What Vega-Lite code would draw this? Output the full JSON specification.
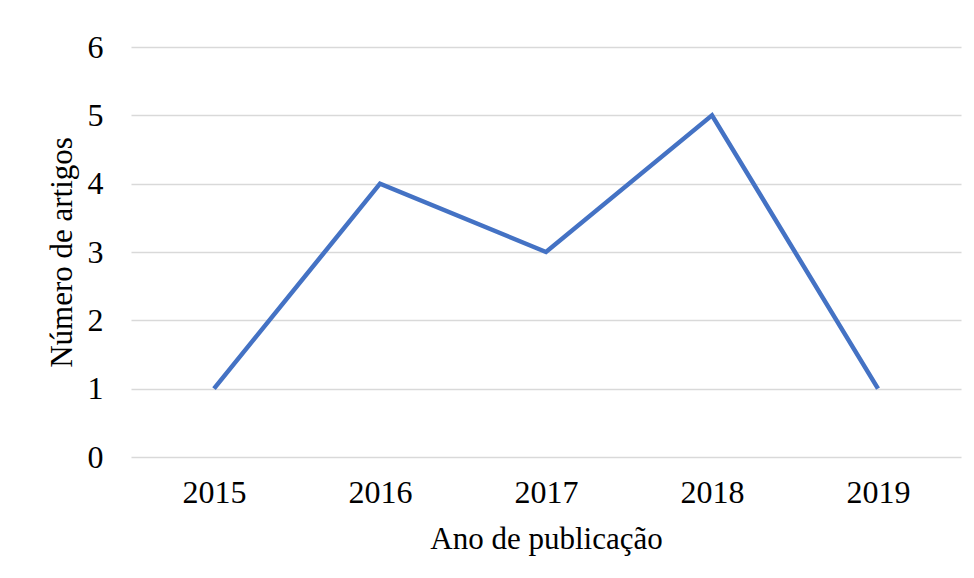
{
  "$schema": "https://vega.github.io/schema/vega-lite/v6.json",
  "width": 830,
  "height": 410,
  "autosize": "none",
  "padding": {"left": 131, "top": 47, "right": 13, "bottom": 121},
  "background": "white",
  "data": {"values": [
    {"ano": "2015", "n": 1},
    {"ano": "2016", "n": 4},
    {"ano": "2017", "n": 3},
    {"ano": "2018", "n": 5},
    {"ano": "2019", "n": 1}
  ]},
  "config": {
    "view": {"stroke": null},
    "font": "Liberation Serif"
  },
  "mark": {"type": "line", "color": "#4472C4", "strokeWidth": 4.5},
  "encoding": {
    "x": {
      "field": "ano", "type": "ordinal",
      "scale": {"type": "point", "padding": 0.5},
      "axis": {
        "title": "Ano de publicação",
        "titleFont": "Liberation Serif", "titleFontSize": 31, "titleFontWeight": "normal", "titleColor": "#000",
        "titlePadding": 16,
        "labelFont": "Liberation Serif", "labelFontSize": 32, "labelColor": "#000", "labelAngle": 0,
        "labelPadding": 20, "labelOverlap": false,
        "domain": false, "ticks": false, "grid": false
      }
    },
    "y": {
      "field": "n", "type": "quantitative",
      "scale": {"domain": [0, 6]},
      "axis": {
        "title": "Número de artigos",
        "titleFont": "Liberation Serif", "titleFontSize": 31, "titleFontWeight": "normal", "titleColor": "#000",
        "titlePadding": 9,
        "labelFont": "Liberation Serif", "labelFontSize": 32, "labelColor": "#000",
        "labelPadding": 28, "labelOverlap": false,
        "values": [0, 1, 2, 3, 4, 5, 6],
        "domain": false, "ticks": false,
        "grid": true, "gridColor": "#d9d9d9", "gridWidth": 1.5
      }
    }
  }
}
